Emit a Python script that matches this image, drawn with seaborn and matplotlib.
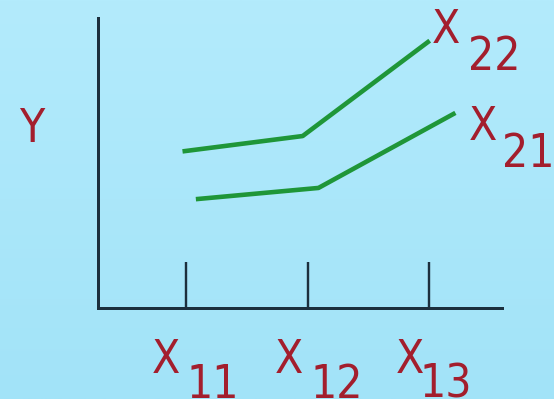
import numpy as np
import pandas as pd
import seaborn as sns
import matplotlib
matplotlib.use("Agg")
import matplotlib.pyplot as plt

# -----------------------------
# data
# -----------------------------
x_ticks = [1, 2, 3]
x_subs = ["11", "12", "13"]
series = ["22", "21"]
x_x22 = [0.99, 1.96, 2.99]
y_x22 = [5.41, 5.93, 9.17]
x_x21 = [1.10, 2.09, 3.20]
y_x21 = [3.76, 4.14, 6.69]

df = pd.DataFrame({
    "x": x_x22 + x_x21,
    "y": y_x22 + y_x21,
    "serie": [series[0]] * len(x_x22) + [series[1]] * len(x_x21),
})

RED = "#A31E2D"
GREEN = "#1F9638"
DARK = "#1C2F3D"
PX = 0.72  # pixels -> points at dpi 100
font = dict(family="DejaVu Sans", size=33, color=RED, fontstretch="condensed")

fig = plt.figure(figsize=(5.54, 3.99), dpi=100)

# light blue gradient background
bg = fig.add_axes([0, 0, 1, 1], zorder=-1)
t = np.linspace(0, 1, 256)[:, None, None]
top = np.array([179, 235, 252]) / 255
bot = np.array([162, 227, 248]) / 255
bg.imshow(top * (1 - t) + bot * t, aspect="auto", extent=[0, 1, 0, 1])
bg.axis("off")

ax = fig.add_axes([98 / 554, 91 / 399, 404 / 554, 290 / 399])
ax.set_facecolor("none")
sns.lineplot(data=df, x="x", y="y", hue="serie", palette=[GREEN, GREEN],
             linewidth=3.3, legend=False, sort=False, ax=ax)

ax.set_xlim(0.276, 3.60)
ax.set_ylim(0, 10)
ax.set_xlabel("")
ax.set_ylabel("")
for s in ["top", "right"]:
    ax.spines[s].set_visible(False)
for s in ["left", "bottom"]:
    ax.spines[s].set_color(DARK)
    ax.spines[s].set_linewidth(3 * PX)
ax.set_xticks(x_ticks)
ax.set_xticklabels([])
ax.set_yticks([])
ax.tick_params(axis="x", direction="in", length=46 * PX, width=2.4 * PX, color=DARK)

# tick labels: X with subscript
x_dx = [-20.5, -18.5, -19.5]
sub_dx = [26.5, 29.5, 16.5]
for xt, sub, dx, sdx in zip(x_ticks, x_subs, x_dx, sub_dx):
    ax.annotate("X", xy=(xt, 0), xytext=(dx * PX, -65 * PX), textcoords="offset points",
                ha="center", va="baseline", annotation_clip=False, **font)
    ax.annotate(sub, xy=(xt, 0), xytext=(sdx * PX, -90 * PX), textcoords="offset points",
                ha="center", va="baseline", annotation_clip=False, **font)

# series labels at the end of each line
ends = [(x_x22[-1], y_x22[-1], (18.5, -1), (66, -28)),
        (x_x21[-1], y_x21[-1], (29.5, -26), (75, -53))]
for name, (xe, ye, xo, so) in zip(series, ends):
    ax.annotate("X", xy=(xe, ye), xytext=(xo[0] * PX, xo[1] * PX), textcoords="offset points",
                ha="center", va="baseline", annotation_clip=False, **font)
    ax.annotate(name, xy=(xe, ye), xytext=(so[0] * PX, so[1] * PX), textcoords="offset points",
                ha="center", va="baseline", annotation_clip=False, **font)

# Y axis label
ax.annotate("Y", xy=(0, 166 / 290), xycoords="axes fraction", xytext=(-66.5 * PX, 0),
            textcoords="offset points", ha="center", va="baseline", **font)

fig.savefig("out.png", dpi=100)
